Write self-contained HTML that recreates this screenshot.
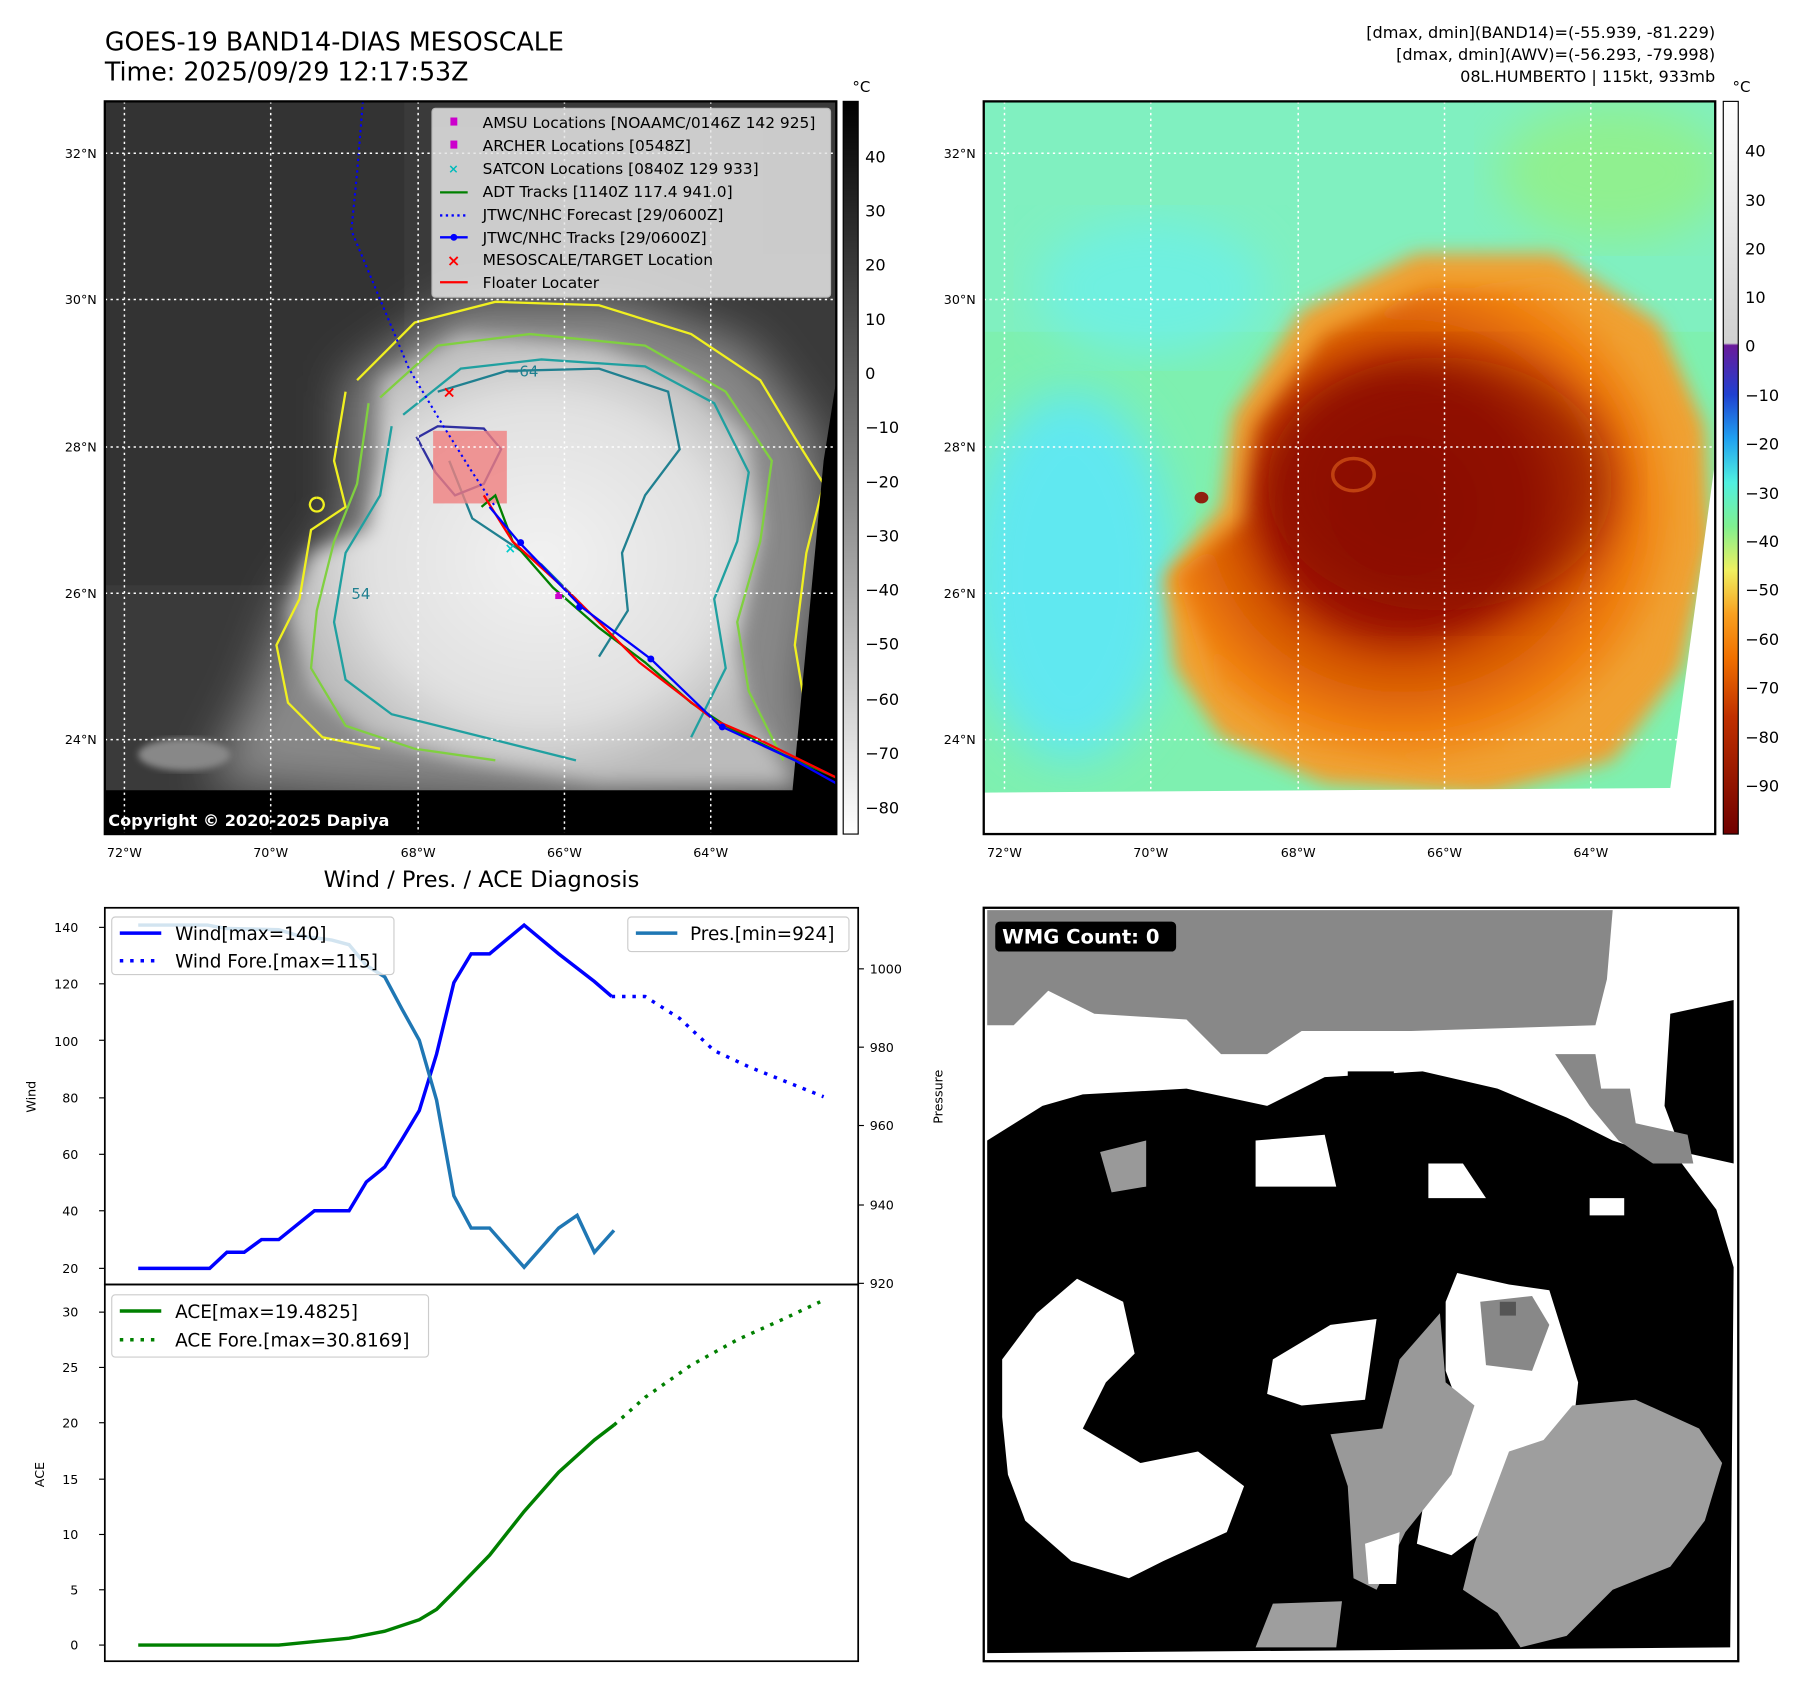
<!DOCTYPE html>
<html><head><meta charset="utf-8"><style>
html,body{margin:0;padding:0;background:#fff}
svg{display:block}
text{font-family:"DejaVu Sans","Liberation Sans",sans-serif;fill:#000}
</style></head><body>
<svg width="1797" height="1690" viewBox="0 0 1560 1467" preserveAspectRatio="none" xmlns="http://www.w3.org/2000/svg">
<defs>
<filter id="b8"><feGaussianBlur stdDeviation="8"/></filter>
<filter id="b20"><feGaussianBlur stdDeviation="20"/></filter>
<filter id="b3"><feGaussianBlur stdDeviation="3"/></filter>
<linearGradient id="cb1" x1="0" y1="0" x2="0" y2="1"><stop offset="0" stop-color="#000"/><stop offset="1" stop-color="#fff"/></linearGradient>
<linearGradient id="cb2" x1="0" y1="0" x2="0" y2="1">
<stop offset="0" stop-color="#ffffff"/><stop offset="0.33" stop-color="#d0d0d0"/>
<stop offset="0.333" stop-color="#6a1a9a"/><stop offset="0.4" stop-color="#2040d0"/>
<stop offset="0.46" stop-color="#20a0f0"/><stop offset="0.52" stop-color="#50f0e0"/>
<stop offset="0.58" stop-color="#80f090"/><stop offset="0.64" stop-color="#f0f060"/>
<stop offset="0.7" stop-color="#f8a020"/><stop offset="0.76" stop-color="#f07000"/>
<stop offset="0.84" stop-color="#c03000"/><stop offset="1" stop-color="#700000"/></linearGradient>
<radialGradient id="cloud" cx="0.5" cy="0.5" r="0.5"><stop offset="0" stop-color="#f2f2f2"/><stop offset="0.7" stop-color="#e0e0e0"/><stop offset="1" stop-color="#bbb"/></radialGradient>
<radialGradient id="hot" cx="0.45" cy="0.45" r="0.55"><stop offset="0" stop-color="#8a0800"/><stop offset="0.45" stop-color="#a01800"/><stop offset="0.6" stop-color="#d05000"/><stop offset="0.85" stop-color="#f08010"/><stop offset="1" stop-color="#f0a030"/></radialGradient>
<clipPath id="c1"><rect x="91" y="88" width="635" height="636"/></clipPath>
<clipPath id="c2"><rect x="854" y="88" width="635" height="636"/></clipPath>
<clipPath id="c4"><rect x="854" y="788" width="655" height="654"/></clipPath>
</defs>

<text x="91" y="44" font-size="22">GOES-19 BAND14-DIAS MESOSCALE</text>
<text x="91" y="70" font-size="22">Time: 2025/09/29 12:17:53Z</text>
<text x="1489" y="33" font-size="14" text-anchor="end">[dmax, dmin](BAND14)=(-55.939, -81.229)</text>
<text x="1489" y="52" font-size="14" text-anchor="end">[dmax, dmin](AWV)=(-56.293, -79.998)</text>
<text x="1489" y="71" font-size="14" text-anchor="end">08L.HUMBERTO | 115kt, 933mb</text>

<g clip-path="url(#c1)">
<rect x="91" y="88" width="635" height="636" fill="#3a3a3a"/>
<rect x="91" y="88" width="260" height="420" fill="#333"/>
<path d="M300,330 L400,260 L540,260 L650,300 L710,380 L720,480 L700,600 L720,690 L500,700 L300,690 L180,680 L220,600 L250,520 L300,450 Z" fill="#888" filter="url(#b20)"/>
<path d="M330,330 L400,290 L520,300 L600,330 L650,380 L660,460 L640,560 L650,620 L690,680 L520,680 L400,660 L320,640 L270,600 L250,530 L270,480 L320,460 L330,400 Z" fill="url(#cloud)" filter="url(#b8)"/>
<ellipse cx="160" cy="655" rx="40" ry="14" fill="#888" filter="url(#b3)"/>
<g fill="none" stroke-width="2">
<path d="M310,330 L360,280 L430,262 L520,265 L600,290 L660,330 L690,380 L715,420 L700,480 L690,560 L700,620 L710,680 M300,340 L290,400 L300,440 L270,460 L260,520 L240,560 L250,610 L280,640 L330,650" stroke="#f0f020"/>
<path d="M330,345 L380,300 L460,290 L560,300 L630,340 L670,400 L660,470 L640,540 L650,600 L680,660 M320,350 L310,420 L290,470 L275,530 L270,580 L300,630 L360,650 L430,660" stroke="#80d040"/>
<path d="M350,360 L400,320 L470,312 L560,318 L620,350 L650,410 L640,470 L620,520 L630,580 L600,640 M340,370 L330,430 L300,480 L290,540 L300,590 L340,620 L420,640 L500,660" stroke="#20a0a0"/>
<path d="M380,340 L440,322 L520,320 L580,340 L590,390 L560,430 L540,480 L545,530 L520,570 M390,400 L410,450 L470,490 L500,520" stroke="#208090"/>
<path d="M362,380 L380,370 L420,372 L435,390 L420,420 L395,430 L378,410 Z" stroke="#3030a0"/>
<path d="M275,432 a6,6 0 1,0 0.1,0" stroke="#f0f020"/>
</g>
<text x="440" y="327" font-size="13" style="fill:#208090">−64</text>
<text x="305" y="520" font-size="13" style="fill:#208090">54</text>
<rect x="376" y="374" width="64" height="63" fill="#f08080" opacity="0.8"/>
<polygon points="715,400 726,330 726,724 91,724 91,686 688,686" fill="#000"/>
<polyline points="315,88 310,150 305,200 330,260 355,320 385,370 410,410 430,440" fill="none" stroke="#00f" stroke-width="1.8" stroke-dasharray="2,3"/>
<polyline points="418,440 430,430 445,470 480,510 520,545 560,575 600,610 630,630 680,655 726,675" fill="none" stroke="#008000" stroke-width="2"/>
<polyline points="420,430 445,470 500,520 555,575 620,625 655,640 726,675" fill="none" stroke="#f00" stroke-width="2"/>
<polyline points="425,440 450,470 505,527 565,572 625,630 690,660 726,680" fill="none" stroke="#00f" stroke-width="2"/>
<circle cx="452" cy="471" r="3" fill="#00f"/><circle cx="503" cy="527" r="3" fill="#00f"/><circle cx="565" cy="572" r="3" fill="#00f"/><circle cx="627" cy="631" r="3" fill="#00f"/>
<text x="384" y="345" font-size="14" font-weight="bold" style="fill:#f00">×</text>
<text x="438" y="480" font-size="12" font-weight="bold" style="fill:#0cc">×</text>
<rect x="482" y="514" width="6" height="6" fill="#c0c"/>
<g stroke="#fff" stroke-width="1.3" stroke-dasharray="2,3">
<line x1="108" y1="88" x2="108" y2="724"/><line x1="235" y1="88" x2="235" y2="724"/><line x1="363" y1="88" x2="363" y2="724"/><line x1="490" y1="88" x2="490" y2="724"/><line x1="617" y1="88" x2="617" y2="724"/>
<line x1="91" y1="133" x2="726" y2="133"/><line x1="91" y1="260" x2="726" y2="260"/><line x1="91" y1="388" x2="726" y2="388"/><line x1="91" y1="515" x2="726" y2="515"/><line x1="91" y1="642" x2="726" y2="642"/>
</g>
<rect x="375" y="94" width="346" height="164" rx="3" fill="#e6e6e6" opacity="0.85" stroke="#ccc"/>
<g font-size="13.4">
<rect x="391" y="102" width="6" height="7" fill="#c0c"/><text x="419" y="111">AMSU Locations [NOAAMC/0146Z 142 925]</text>
<rect x="391" y="122" width="6" height="7" fill="#c0c"/><text x="419" y="131">ARCHER Locations [0548Z]</text>
<text x="389" y="150" font-size="11" font-weight="bold" style="fill:#0bb">×</text><text x="419" y="151">SATCON Locations [0840Z 129 933]</text>
<line x1="382" y1="167" x2="406" y2="167" stroke="#008000" stroke-width="2"/><text x="419" y="171">ADT Tracks [1140Z 117.4 941.0]</text>
<line x1="382" y1="187" x2="406" y2="187" stroke="#00f" stroke-width="2" stroke-dasharray="2,3"/><text x="419" y="191">JTWC/NHC Forecast [29/0600Z]</text>
<line x1="382" y1="206" x2="406" y2="206" stroke="#00f" stroke-width="2"/><circle cx="394" cy="206" r="3" fill="#00f"/><text x="419" y="211">JTWC/NHC Tracks [29/0600Z]</text>
<text x="388" y="231" font-size="14" font-weight="bold" style="fill:#f00">×</text><text x="419" y="230">MESOSCALE/TARGET Location</text>
<line x1="382" y1="245" x2="406" y2="245" stroke="#f00" stroke-width="2"/><text x="419" y="250">Floater Locater</text>
</g>
<text x="94" y="717" font-size="14" font-weight="bold" style="fill:#fff">Copyright © 2020-2025 Dapiya</text>
</g>
<rect x="91" y="88" width="635" height="636" fill="none" stroke="#000" stroke-width="2"/>
<rect x="732" y="88" width="13" height="636" fill="url(#cb1)" stroke="#000" stroke-width="1"/>
<text x="740" y="80" font-size="13">°C</text>
<g font-size="14">
<text x="751" y="141">40</text><text x="751" y="188">30</text><text x="751" y="235">20</text><text x="751" y="282">10</text><text x="751" y="329">0</text>
<text x="751" y="376">−10</text><text x="751" y="423">−20</text><text x="751" y="470">−30</text><text x="751" y="517">−40</text><text x="751" y="564">−50</text><text x="751" y="612">−60</text><text x="751" y="659">−70</text><text x="751" y="706">−80</text>
</g>
<g font-size="11" text-anchor="middle">
<text x="108" y="744">72°W</text><text x="235" y="744">70°W</text><text x="363" y="744">68°W</text><text x="490" y="744">66°W</text><text x="617" y="744">64°W</text>
<text x="872" y="744">72°W</text><text x="999" y="744">70°W</text><text x="1127" y="744">68°W</text><text x="1254" y="744">66°W</text><text x="1381" y="744">64°W</text>
</g>
<g font-size="11" text-anchor="end">
<text x="84" y="137">32°N</text><text x="84" y="264">30°N</text><text x="84" y="392">28°N</text><text x="84" y="519">26°N</text><text x="84" y="646">24°N</text>
<text x="847" y="137">32°N</text><text x="847" y="264">30°N</text><text x="847" y="392">28°N</text><text x="847" y="519">26°N</text><text x="847" y="646">24°N</text>
</g>

<g clip-path="url(#c2)">
<rect x="854" y="88" width="635" height="636" fill="#7ef0b0"/>
<rect x="854" y="88" width="635" height="200" fill="#80f0c0"/>
<ellipse cx="930" cy="500" rx="90" ry="160" fill="#60e8f0" filter="url(#b20)"/>
<ellipse cx="1000" cy="250" rx="100" ry="60" fill="#70f0e0" filter="url(#b20)"/>
<ellipse cx="1400" cy="150" rx="100" ry="60" fill="#90f090" filter="url(#b20)"/>
<path d="M1010,500 L1060,440 L1070,360 L1130,270 L1230,220 L1350,220 L1440,280 L1480,370 L1485,470 L1460,580 L1400,660 L1290,690 L1150,680 L1060,640 L1020,580 Z" fill="#f0a030" filter="url(#b8)"/>
<path d="M1020,500 L1080,450 L1090,370 L1150,290 L1240,250 L1350,250 L1430,300 L1460,380 L1460,480 L1430,580 L1360,650 L1250,670 L1130,650 L1060,600 Z" fill="url(#hot)" filter="url(#b8)"/>
<ellipse cx="1250" cy="420" rx="150" ry="110" fill="#8a0800" opacity="0.7" filter="url(#b20)"/>
<ellipse cx="1175" cy="412" rx="18" ry="14" fill="none" stroke="#c04010" stroke-width="3"/>
<ellipse cx="1043" cy="432" rx="6" ry="5" fill="#902010"/>
<polygon points="1450,684 1489,400 1489,724 854,724 854,688" fill="#fff"/>
<g stroke="#fff" stroke-width="1.3" stroke-dasharray="2,3">
<line x1="872" y1="88" x2="872" y2="688"/><line x1="999" y1="88" x2="999" y2="688"/><line x1="1127" y1="88" x2="1127" y2="688"/><line x1="1254" y1="88" x2="1254" y2="688"/><line x1="1381" y1="88" x2="1381" y2="688"/>
<line x1="854" y1="133" x2="1489" y2="133"/><line x1="854" y1="260" x2="1489" y2="260"/><line x1="854" y1="388" x2="1489" y2="388"/><line x1="854" y1="515" x2="1475" y2="515"/><line x1="854" y1="642" x2="1460" y2="642"/>
</g>
</g>
<rect x="854" y="88" width="635" height="636" fill="none" stroke="#000" stroke-width="2"/>
<rect x="1496" y="88" width="13" height="636" fill="url(#cb2)" stroke="#000" stroke-width="1"/>
<text x="1504" y="80" font-size="13">°C</text>
<g font-size="14">
<text x="1515" y="136">40</text><text x="1515" y="179">30</text><text x="1515" y="221">20</text><text x="1515" y="263">10</text><text x="1515" y="305">0</text>
<text x="1515" y="348">−10</text><text x="1515" y="390">−20</text><text x="1515" y="433">−30</text><text x="1515" y="475">−40</text><text x="1515" y="517">−50</text><text x="1515" y="560">−60</text><text x="1515" y="602">−70</text><text x="1515" y="645">−80</text><text x="1515" y="687">−90</text>
</g>

<text x="418" y="770" font-size="19.5" text-anchor="middle">Wind / Pres. / ACE Diagnosis</text>
<rect x="91" y="788" width="654" height="327" fill="none" stroke="#000" stroke-width="1.5"/>
<rect x="91" y="1115" width="654" height="327" fill="none" stroke="#000" stroke-width="1.5"/>
<g font-size="11" text-anchor="end">
<text x="68" y="809">140</text><text x="68" y="858">120</text><text x="68" y="908">100</text><text x="68" y="957">80</text><text x="68" y="1006">60</text><text x="68" y="1055">40</text><text x="68" y="1105">20</text>
<text x="68" y="1143">30</text><text x="68" y="1191">25</text><text x="68" y="1239">20</text><text x="68" y="1288">15</text><text x="68" y="1336">10</text><text x="68" y="1384">5</text><text x="68" y="1432">0</text>
</g>
<g stroke="#000"><line x1="86" y1="805" x2="91" y2="805"/><line x1="86" y1="854" x2="91" y2="854"/><line x1="86" y1="903" x2="91" y2="903"/><line x1="86" y1="953" x2="91" y2="953"/><line x1="86" y1="1002" x2="91" y2="1002"/><line x1="86" y1="1051" x2="91" y2="1051"/><line x1="86" y1="1101" x2="91" y2="1101"/>
<line x1="86" y1="1139" x2="91" y2="1139"/><line x1="86" y1="1187" x2="91" y2="1187"/><line x1="86" y1="1235" x2="91" y2="1235"/><line x1="86" y1="1284" x2="91" y2="1284"/><line x1="86" y1="1332" x2="91" y2="1332"/><line x1="86" y1="1380" x2="91" y2="1380"/><line x1="86" y1="1428" x2="91" y2="1428"/>
<line x1="745" y1="841" x2="750" y2="841"/><line x1="745" y1="909" x2="750" y2="909"/><line x1="745" y1="977" x2="750" y2="977"/><line x1="745" y1="1046" x2="750" y2="1046"/><line x1="745" y1="1114" x2="750" y2="1114"/></g>
<g font-size="11"><text x="755" y="845">1000</text><text x="755" y="913">980</text><text x="755" y="981">960</text><text x="755" y="1050">940</text><text x="755" y="1118">920</text></g>
<text transform="translate(31,952) rotate(-90)" font-size="11" text-anchor="middle">Wind</text>
<text transform="translate(818,952) rotate(-90)" font-size="11" text-anchor="middle">Pressure</text>
<text transform="translate(38,1280) rotate(-90)" font-size="11" text-anchor="middle">ACE</text>
<polyline points="120,1101 182,1101 197,1087 212,1087 227,1076 242,1076 273,1051 303,1051 318,1026 334,1013 349,989 364,964 379,915 394,853 409,828 425,828 455,803 485,828 516,852 531,865" fill="none" stroke="#00f" stroke-width="3"/>
<polyline points="531,865 560,865 590,884 620,912 650,926 680,938 715,952" fill="none" stroke="#00f" stroke-width="3" stroke-dasharray="3,6"/>
<polyline points="120,803 180,803 197,806 242,807 258,812 288,816 303,820 318,838 334,848 349,876 364,903 379,955 394,1038 409,1066 425,1066 455,1100 485,1066 501,1055 516,1087 533,1068" fill="none" stroke="#1f77b4" stroke-width="3"/>
<polyline points="120,1428 242,1428 303,1422 334,1416 364,1406 379,1397 394,1382 425,1350 455,1312 485,1278 516,1250 533,1237" fill="none" stroke="#008000" stroke-width="3"/>
<polyline points="533,1237 560,1213 600,1185 640,1163 680,1145 712,1130" fill="none" stroke="#008000" stroke-width="3" stroke-dasharray="3,6"/>
<rect x="97" y="796" width="245" height="50" rx="3" fill="#fff" fill-opacity="0.8" stroke="#ccc"/>
<line x1="104" y1="810" x2="140" y2="810" stroke="#00f" stroke-width="3"/><text x="152" y="816" font-size="16">Wind[max=140]</text>
<line x1="104" y1="834" x2="140" y2="834" stroke="#00f" stroke-width="3" stroke-dasharray="3,6"/><text x="152" y="840" font-size="16">Wind Fore.[max=115]</text>
<rect x="545" y="796" width="192" height="30" rx="3" fill="#fff" fill-opacity="0.8" stroke="#ccc"/>
<line x1="552" y1="810" x2="588" y2="810" stroke="#1f77b4" stroke-width="3"/><text x="599" y="816" font-size="16">Pres.[min=924]</text>
<rect x="97" y="1124" width="275" height="54" rx="3" fill="#fff" fill-opacity="0.8" stroke="#ccc"/>
<line x1="104" y1="1138" x2="140" y2="1138" stroke="#008000" stroke-width="3"/><text x="152" y="1144" font-size="16">ACE[max=19.4825]</text>
<line x1="104" y1="1163" x2="140" y2="1163" stroke="#008000" stroke-width="3" stroke-dasharray="3,6"/><text x="152" y="1169" font-size="16">ACE Fore.[max=30.8169]</text>

<g clip-path="url(#c4)">
<rect x="854" y="788" width="655" height="654" fill="#fff"/>
<polygon points="857,790 1400,790 1395,850 1385,890 1225,895 1130,895 1100,915 1060,915 1030,885 950,880 910,860 880,890 857,890" fill="#888"/>
<polygon points="857,990 905,960 940,950 1030,945 1100,960 1150,935 1235,930 1300,945 1360,970 1400,990 1460,1010 1490,1050 1505,1100 1502,1430 857,1435" fill="#000"/>
<polygon points="1450,880 1505,868 1505,1010 1460,1000 1445,960" fill="#000"/>
<polygon points="1170,930 1210,930 1210,945 1170,945" fill="#000"/>
<polygon points="1090,990 1150,985 1160,1030 1090,1030" fill="#fff"/>
<polygon points="1240,1010 1270,1010 1290,1040 1240,1040" fill="#fff"/>
<polygon points="1380,1040 1410,1040 1410,1055 1380,1055" fill="#fff"/>
<polygon points="955,1000 995,990 995,1030 965,1035" fill="#999"/>
<polygon points="1350,915 1385,915 1390,945 1415,945 1420,975 1465,985 1470,1010 1435,1010 1405,990 1380,960" fill="#888"/>
<polygon points="870,1180 900,1140 935,1110 975,1130 985,1175 960,1200 940,1240 990,1270 1040,1260 1080,1290 1065,1330 1010,1355 980,1370 930,1355 890,1320 875,1280 870,1230" fill="#fff"/>
<polygon points="1105,1180 1155,1150 1195,1145 1185,1215 1130,1220 1100,1210" fill="#fff"/>
<polygon points="1255,1130 1265,1105 1310,1115 1345,1120 1370,1200 1360,1290 1300,1320 1260,1350 1230,1340 1240,1280 1270,1230 1255,1190" fill="#fff"/>
<polygon points="1215,1180 1250,1140 1255,1200 1280,1220 1260,1280 1220,1330 1195,1380 1175,1370 1170,1290 1155,1245 1200,1240" fill="#999"/>
<polygon points="1285,1130 1330,1125 1345,1150 1330,1190 1290,1185" fill="#888"/>
<rect x="1302" y="1130" width="14" height="12" fill="#555"/>
<polygon points="1280,1340 1310,1260 1340,1250 1365,1220 1420,1215 1475,1240 1495,1270 1480,1320 1450,1360 1400,1380 1360,1420 1320,1430 1300,1400 1270,1380" fill="#9e9e9e"/>
<polygon points="1090,1430 1105,1392 1165,1390 1160,1430" fill="#9e9e9e"/>
<polygon points="1185,1340 1215,1330 1212,1375 1188,1375" fill="#fff"/>
<rect x="864" y="800" width="157" height="26" rx="4" fill="#000"/>
<text x="870" y="819" font-size="17" font-weight="bold" style="fill:#fff">WMG Count: 0</text>
</g>
<rect x="854" y="788" width="655" height="654" fill="none" stroke="#000" stroke-width="2"/>
</svg>
</body></html>
